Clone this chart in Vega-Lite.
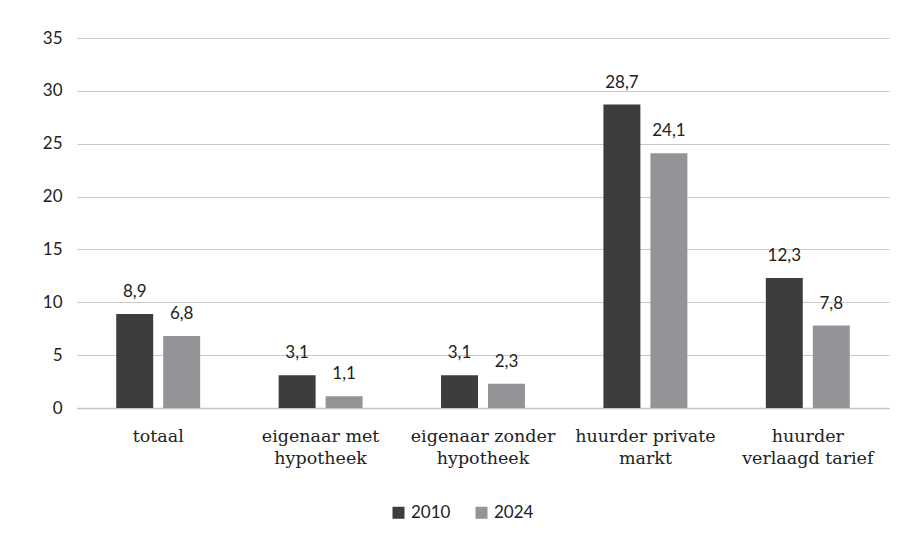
{
  "$schema": "https://vega.github.io/schema/vega-lite/v6.json",
  "width": 812,
  "height": 370,
  "autosize": {"type": "none"},
  "padding": {"left": 77, "top": 38, "right": 18, "bottom": 137},
  "config": {
    "locale": {"number": {"decimal": ",", "thousands": ".", "grouping": [3], "currency": ["€", ""]}},
    "view": {"stroke": null},
    "font": "Lato"
  },
  "data": {
    "values": [
      {"categorie": "totaal", "jaar": "2010", "waarde": 8.9},
      {"categorie": "totaal", "jaar": "2024", "waarde": 6.8},
      {"categorie": "eigenaar met hypotheek", "jaar": "2010", "waarde": 3.1},
      {"categorie": "eigenaar met hypotheek", "jaar": "2024", "waarde": 1.1},
      {"categorie": "eigenaar zonder hypotheek", "jaar": "2010", "waarde": 3.1},
      {"categorie": "eigenaar zonder hypotheek", "jaar": "2024", "waarde": 2.3},
      {"categorie": "huurder private markt", "jaar": "2010", "waarde": 28.7},
      {"categorie": "huurder private markt", "jaar": "2024", "waarde": 24.1},
      {"categorie": "huurder verlaagd tarief", "jaar": "2010", "waarde": 12.3},
      {"categorie": "huurder verlaagd tarief", "jaar": "2024", "waarde": 7.8}
    ]
  },
  "encoding": {
    "x": {
      "field": "categorie",
      "type": "nominal",
      "sort": null,
      "scale": {"paddingInner": 0.483, "paddingOuter": 0.2415},
      "axis": {
        "title": null,
        "labelAngle": 0,
        "ticks": false,
        "domainColor": "#c4c4c4",
        "domainWidth": 1.5,
        "labelFont": "DejaVu Serif",
        "labelFontSize": 17.5,
        "labelColor": "#222222",
        "labelPadding": 19,
        "labelLineHeight": 22,
        "labelLimit": 300,
        "labelExpr": "datum.value == 'totaal' ? 'totaal' : datum.value == 'huurder verlaagd tarief' ? ['huurder', 'verlaagd tarief'] : [slice(datum.value, 0, lastindexof(datum.value, ' ')), slice(datum.value, lastindexof(datum.value, ' ') + 1)]"
      }
    },
    "xOffset": {
      "field": "jaar",
      "type": "nominal",
      "scale": {"paddingInner": 0.213, "paddingOuter": 0}
    },
    "y": {
      "field": "waarde",
      "type": "quantitative",
      "scale": {"domain": [0, 35]},
      "axis": {
        "title": null,
        "values": [0, 5, 10, 15, 20, 25, 30, 35],
        "domain": false,
        "ticks": false,
        "gridColor": "#c8c8c8",
        "gridWidth": 1.2,
        "labelFontSize": 17,
        "labelColor": "#222222",
        "labelPadding": 15,
        "format": "d"
      }
    }
  },
  "layer": [
    {
      "mark": {"type": "bar"},
      "encoding": {
        "color": {
          "field": "jaar",
          "type": "nominal",
          "scale": {"domain": ["2010", "2024"], "range": ["#3d3d3d", "#939497"]},
          "legend": {
            "title": null,
            "orient": "none",
            "legendX": 313,
            "legendY": 466,
            "direction": "horizontal",
            "symbolType": "square",
            "symbolSize": 144,
            "symbolStrokeWidth": 0,
            "labelFontSize": 17,
            "labelColor": "#222222",
            "columnPadding": 22
          }
        }
      }
    },
    {
      "mark": {"type": "text", "dy": -17, "baseline": "alphabetic", "fontSize": 17, "color": "#222222"},
      "encoding": {
        "text": {"field": "waarde", "type": "quantitative", "format": ".1f"}
      }
    }
  ]
}
